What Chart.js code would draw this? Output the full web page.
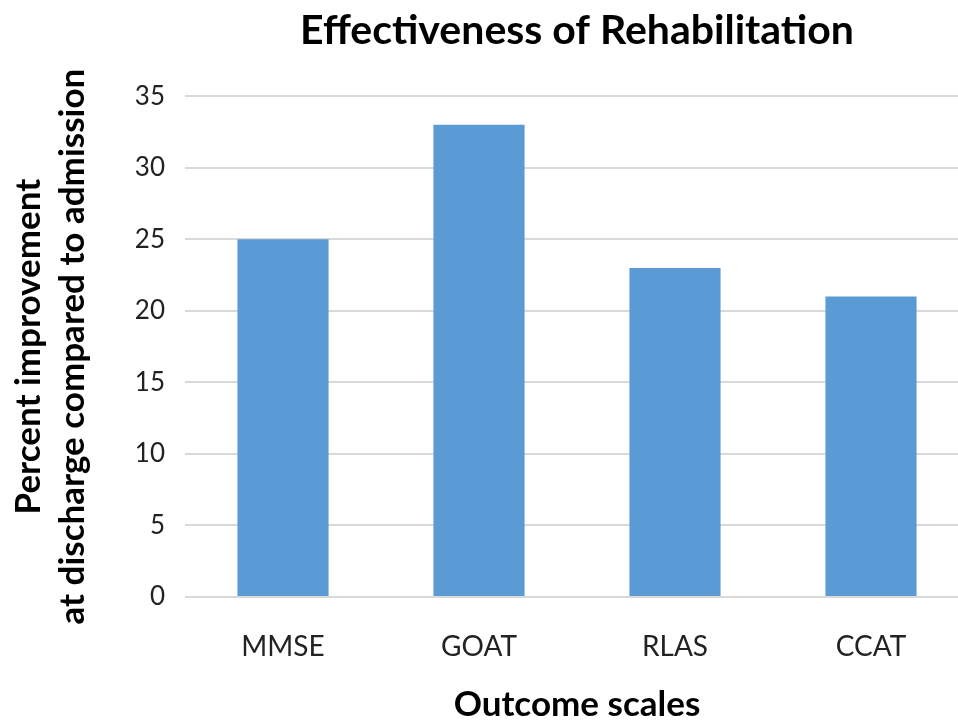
<!DOCTYPE html>
<html>
<head>
<meta charset="utf-8">
<script src="https://cdn.jsdelivr.net/npm/chart.js@4"></script>
<style>
  html, body { margin: 0; padding: 0; background: #fff; overflow: hidden; }
  #wrap { width: 969px; height: 721px; }
</style>
</head>
<body>
<div id="wrap"><canvas id="chart" width="969" height="721"></canvas></div>
<script>
// values
var categories = ['MMSE', 'GOAT', 'RLAS', 'CCAT'];
var improvement = [25, 33, 23, 21];
var yMin = 0, yMax = 35, yStep = 5;

var font = 'Lato, "Open Sans", sans-serif';

var chart = new Chart(document.getElementById('chart'), {
  type: 'bar',
  data: {
    labels: categories,
    datasets: [{
      label: 'Percent improvement',
      data: improvement,
      backgroundColor: '#5B9BD5',
      borderWidth: 0,
      categoryPercentage: 1,
      barPercentage: 0.465
    }]
  },
  options: {
    responsive: false,
    animation: false,
    layout: { padding: { left: 0, right: 0, top: 0, bottom: 0 } },
    plugins: {
      legend: { display: false },
      tooltip: { enabled: false },
      title: {
        display: true,
        fullSize: false,   // centre it over the plot, not the canvas
        text: 'Effectiveness of Rehabilitation',
        color: '#000',
        font: { family: font, size: 41, weight: 'bold', lineHeight: 1.2 },
        padding: { top: 6, bottom: 41 }
      }
    },
    scales: {
      x: {
        grid: { display: false, drawTicks: false },
        border: { display: false },
        ticks: {
          color: '#222',
          padding: 33,
          font: { family: font, size: 28 }
        },
        title: {
          display: true,
          text: 'Outcome scales',
          color: '#000',
          font: { family: font, size: 35, weight: 'bold', lineHeight: 0.9 },
          padding: { top: 0, bottom: 1 }
        },
        afterFit: function(scale){ scale.height = 124; }
      },
      y: {
        min: yMin,
        max: yMax,
        grid: { color: '#d9d9d9', lineWidth: 2, drawTicks: false },
        border: { display: false },
        ticks: {
          stepSize: yStep,
          color: '#222',
          padding: 20,
          font: { family: font, size: 26 }
        },
        title: {
          display: true,
          text: ['Percent improvement', 'at discharge compared to admission'],
          color: '#000',
          font: { family: font, size: 35, weight: 'bold', lineHeight: 1.26 },
          padding: { top: 7, bottom: 0 }
        },
        afterFit: function(scale){ scale.width = 185; }
      }
    }
  }
});
</script>
</body>
</html>
